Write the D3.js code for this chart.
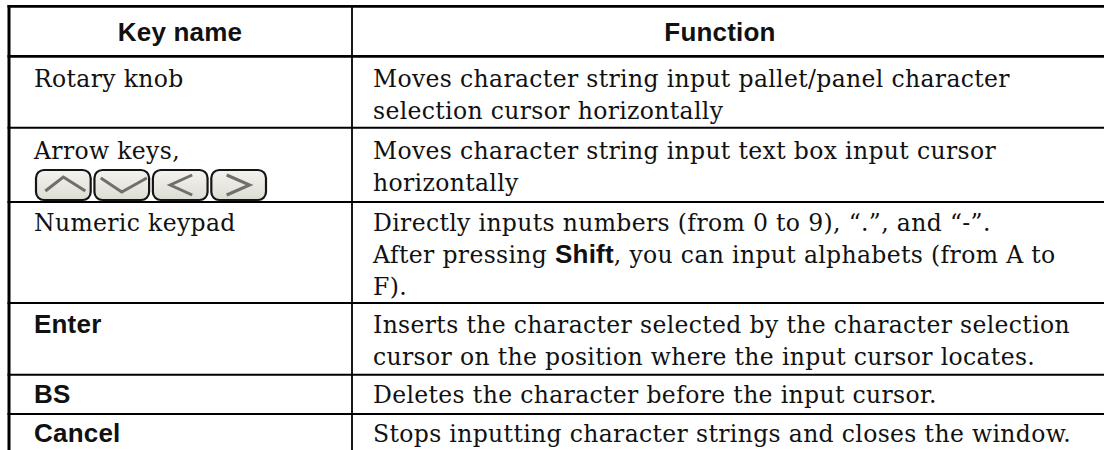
<!DOCTYPE html>
<html>
<head>
<meta charset="utf-8">
<script src="https://cdn.jsdelivr.net/npm/d3@7"></script>
<style>
  html, body { margin: 0; padding: 0; background: #fff; overflow: hidden; }
  text { fill: #111; }
  .serif { font-family: "DejaVu Serif", serif; font-size: 23.5px; letter-spacing: 0.35px; }
  .sans { font-family: "Liberation Sans", sans-serif; font-size: 26px; letter-spacing: 0.2px; }
  .bold { font-weight: bold; }
</style>
</head>
<body>
<div id="chart"></div>
<script>
const headers = ['Key name', 'Function'];

// each line is a list of [text, bold] runs
const keyNames = [
  [[['Rotary knob', false]]],
  [[['Arrow keys,', false]]],
  [[['Numeric keypad', false]]],
  [[['Enter', true]]],
  [[['BS', true]]],
  [[['Cancel', true]]],
];

const functions = [
  [[['Moves character string input pallet/panel character', false]],
   [['selection cursor horizontally', false]]],
  [[['Moves character string input text box input cursor', false]],
   [['horizontally', false]]],
  [[['Directly inputs numbers (from 0 to 9), “.”, and “-”.', false]],
   [['After pressing ', false], ['Shift', true], [', you can input alphabets (from A to', false]],
   [['F).', false]]],
  [[['Inserts the character selected by the character selection', false]],
   [['cursor on the position where the input cursor locates.', false]]],
  [[['Deletes the character before the input cursor.', false]]],
  [[['Stops inputting character strings and closes the window.', false]]],
];

const arrowKeys = ['up', 'down', 'left', 'right'];

// layout
const W = 1104, H = 450;
const rowEdges = [6.3, 56.3, 127.8, 202, 303, 374.7, 414];
const rowWidths = [2.7, 2.7, 2, 1.8, 2, 2, 2];
const baselineOffset = [31, 31, 29, 30, 28, 28];
const colLeft = 9, colMid = 352;
const textX = [34, 373];
const lineStep = 32;

const svg = d3.select('#chart').append('svg')
  .attr('width', W).attr('height', H);

function addLines(g, lines, x, y0) {
  lines.forEach((runs, i) => {
    const t = g.append('text').attr('x', x).attr('y', y0 + i * lineStep);
    runs.forEach(([s, bold]) => {
      t.append('tspan')
        .attr('class', bold ? 'sans bold' : 'serif')
        .text(s);
    });
  });
}

// header
const colCentres = [180, 720];
headers.forEach((h, i) => {
  svg.append('text')
    .attr('class', 'sans bold')
    .attr('x', colCentres[i]).attr('y', 41)
    .attr('text-anchor', 'middle')
    .text(h);
});

// body
keyNames.forEach((lines, i) => {
  const y0 = rowEdges[i + 1] + baselineOffset[i];
  addLines(svg, lines, textX[0], y0);
  addLines(svg, functions[i], textX[1], y0);
});

// rules
rowEdges.forEach((y, i) => {
  svg.append('line')
    .attr('x1', colLeft - 1.5).attr('x2', W)
    .attr('y1', y).attr('y2', y)
    .attr('stroke', '#000').attr('stroke-width', rowWidths[i]);
});
svg.append('line')
  .attr('x1', colLeft).attr('x2', colLeft)
  .attr('y1', 5).attr('y2', H)
  .attr('stroke', '#000').attr('stroke-width', 3);
svg.append('line')
  .attr('x1', colMid).attr('x2', colMid)
  .attr('y1', 5).attr('y2', H)
  .attr('stroke', '#000').attr('stroke-width', 1.8);

// arrow key buttons
const keyX = d3.scaleBand().domain(arrowKeys).range([35, 267]).paddingInner(0.03);
const chevrons = {
  up: [[-18, 6], [0, -8], [22, 6]],
  down: [[-21, -7], [0, 7], [25, -7]],
  left: [[12, -10], [-10, 0], [12, 10]],
  right: [[-12, -10], [11, 0], [-12, 10]],
};
const grad = svg.append('defs').append('linearGradient')
  .attr('id', 'keyFill').attr('x1', 0).attr('x2', 0).attr('y1', 0).attr('y2', 1);
grad.append('stop').attr('offset', 0).attr('stop-color', '#f4f3ef');
grad.append('stop').attr('offset', 1).attr('stop-color', '#dddcd4');

const keyG = svg.selectAll('g.key').data(arrowKeys).join('g')
  .attr('class', 'key')
  .attr('transform', d => `translate(${keyX(d) + keyX.bandwidth() / 2},185)`);
keyG.append('rect')
  .attr('x', -keyX.bandwidth() / 2 + 1).attr('y', -15)
  .attr('width', keyX.bandwidth() - 2).attr('height', 30)
  .attr('rx', 8)
  .attr('fill', 'url(#keyFill)').attr('stroke', '#151515').attr('stroke-width', 2.2);
keyG.append('path')
  .attr('d', d => d3.line()(chevrons[d]))
  .attr('fill', 'none').attr('stroke', '#6f6f6b').attr('stroke-width', 3);
</script>
</body>
</html>
